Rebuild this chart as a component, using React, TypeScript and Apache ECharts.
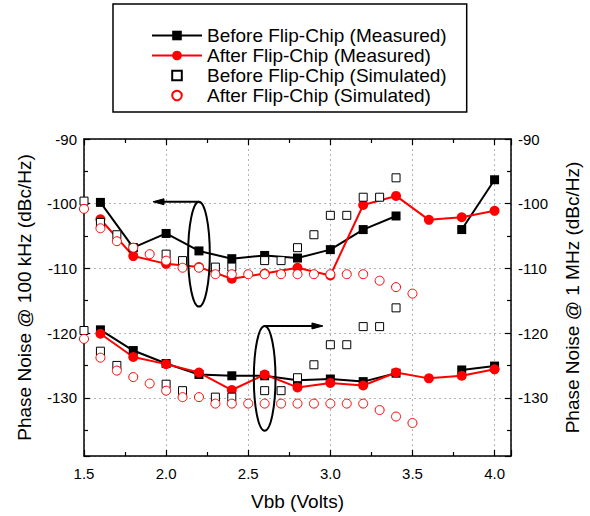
import React, { useEffect, useRef } from 'react';
import * as echarts from 'echarts';

const seriesNames = [
  'Before Flip-Chip (Measured)',
  'After Flip-Chip (Measured)',
  'Before Flip-Chip (Simulated)',
  'After Flip-Chip (Simulated)',
];

// Measured bias points (Volts)
const xMeasured = [1.6, 1.8, 2.0, 2.2, 2.4, 2.6, 2.8, 3.0, 3.2, 3.4, 3.6, 3.8, 4.0];
// Upper group (phase noise @ 100 kHz, left axis)
const beforeMeasured100k = [-99.8, -106.8, -104.6, -107.3, -108.5, -108.0, -108.4, -107.1, -104.0, -101.9, null, -104.0, -96.3];
const afterMeasured100k = [-102.4, -108.1, -109.3, -109.8, -111.6, -110.8, -109.9, -111.1, -100.2, -98.8, -102.5, -102.1, -101.1];
// Lower group (phase noise @ 1 MHz, right axis)
const beforeMeasured1M = [-119.5, -122.7, -124.7, -126.4, -126.6, -126.6, -127.3, -127.1, -127.5, -126.2, null, -125.7, -125.1];
const afterMeasured1M = [-120.1, -123.7, -124.8, -126.1, -128.8, -126.4, -128.4, -127.7, -128.1, -126.1, -127.0, -126.6, -125.6];

// Simulated bias points (Volts)
const xSimulated = [1.5, 1.6, 1.7, 1.8, 1.9, 2.0, 2.1, 2.2, 2.3, 2.4, 2.5, 2.6, 2.7, 2.8, 2.9, 3.0, 3.1, 3.2, 3.3, 3.4, 3.5];
const beforeSimulated100k = [-99.6, -102.9, -104.8, -106.8, null, -107.8, -108.8, null, -109.8, -109.8, null, -108.8, -108.8, -106.8, -104.8, -101.8, -101.8, -99.0, -99.0, -96.0, null];
const afterSimulated100k = [-100.8, -103.8, -105.8, -106.8, -107.8, -108.8, -109.9, -109.9, -110.9, -110.9, -110.9, -110.9, -110.9, -110.9, -110.9, -110.9, -110.9, -110.9, -111.9, -112.9, -113.9];
const beforeSimulated1M = [-119.6, -122.8, -125.0, null, null, -127.9, -128.9, null, -129.9, -129.9, null, -128.9, -128.9, -126.9, -124.9, -121.8, -121.8, -119.0, -119.0, -116.1, null];
const afterSimulated1M = [-120.9, -123.8, -125.8, -126.8, -127.8, -128.9, -129.9, -129.9, -130.9, -130.9, -130.9, -130.9, -130.9, -130.9, -130.9, -130.9, -130.9, -130.9, -131.9, -132.9, -133.9];

// Axis ranges
const xRange = [1.5, 4.1];
const yRange = [-139, -90];

// Annotation ellipses: [centre V, centre dB, half width V, half height dB, arrow end V]
const ellipse100k = [2.2, -107.8, 0.066, 8.1, 1.92];
const ellipse1M = [2.6, -127.0, 0.066, 8.1, 2.955];

const FONT = '"Liberation Sans", Arial, Helvetica, sans-serif';

const linePairs = (xs: number[], ys: (number | null)[]) =>
  xs.map((x, i) => [x, ys[i] === null ? '-' : ys[i]]);
const scatterPairs = (xs: number[], ys: (number | null)[]) =>
  xs.map((x, i) => [x, ys[i]]).filter((p) => p[1] !== null);

export default function App() {
  const ref = useRef<HTMLDivElement>(null);

  useEffect(() => {
    document.body.style.margin = '0';
    const chart = echarts.init(ref.current!, null, { renderer: 'svg' });

    const axisLine = { show: true, lineStyle: { color: '#000', width: 1.5 } };
    const axisTick = { show: true, inside: true, length: 6, lineStyle: { color: '#000', width: 1.2 } };
    const minorTick = { show: true, splitNumber: 2, length: 4, lineStyle: { color: '#000', width: 1.2 } };
    const grid = { lineStyle: { type: [2, 3], color: '#b4b4b4', width: 1 } };
    const yLabel = (v: number) => (Math.abs(v % 10) < 1e-6 ? String(v) : '');
    const xLabel = (v: number) =>
      Math.abs(v * 2 - Math.round(v * 2)) < 1e-6 && v <= 4.0001 ? v.toFixed(1) : '';

    const measuredLine = (name: string, color: string, symbol: string, size: number, ys: (number | null)[]) => ({
      name,
      type: 'line',
      data: linePairs(xMeasured, ys),
      symbol,
      symbolSize: size,
      showAllSymbol: true,
      connectNulls: false,
      itemStyle: { color },
      lineStyle: { color, width: 2 },
    });
    // markers only: a line series with an invisible line, so its legend icon is a small marker
    const simulated = (name: string, color: string, symbol: string, size: number, ys: (number | null)[]) => ({
      name,
      type: 'line',
      data: scatterPairs(xSimulated, ys),
      symbol,
      symbolSize: size,
      showAllSymbol: true,
      itemStyle: { color: '#fff', borderColor: color, borderWidth: 1 },
      lineStyle: { width: 0, opacity: 0 },
    });

    chart.setOption({
      animation: false,
      backgroundColor: '#fff',
      textStyle: { fontFamily: FONT },
      grid: { left: 84, right: 74, top: 139, bottom: 56 },
      legend: {
        orient: 'vertical',
        left: 113,
        top: 4,
        padding: [22, 20, 7, 38],
        itemGap: 1,
        itemWidth: 50,
        itemHeight: 12,
        borderColor: '#000',
        borderWidth: 1.5,
        textStyle: { fontSize: 19, color: '#000', fontFamily: FONT, lineHeight: 19 },
        data: seriesNames,
      },
      xAxis: [
        {
          type: 'value',
          min: xRange[0],
          max: xRange[1],
          splitNumber: 5,
          position: 'bottom',
          axisLine,
          axisTick,
          minorTick,
          splitLine: { show: true, ...grid },
          axisLabel: { formatter: xLabel, fontSize: 15, color: '#000', margin: 10, fontFamily: FONT },
          name: 'Vbb (Volts)',
          nameLocation: 'middle',
          nameGap: 36,
          nameTextStyle: { fontSize: 19, color: '#000', fontFamily: FONT },
        },
        {
          type: 'value',
          min: xRange[0],
          max: xRange[1],
          splitNumber: 5,
          position: 'top',
          axisLine,
          axisTick,
          minorTick,
          splitLine: { show: false },
          axisLabel: { show: false },
        },
      ],
      yAxis: [
        {
          type: 'value',
          min: yRange[0],
          max: yRange[1],
          splitNumber: 5,
          position: 'left',
          axisLine,
          axisTick,
          minorTick,
          splitLine: { show: true, ...grid },
          axisLabel: { formatter: yLabel, fontSize: 15, color: '#000', margin: 7, fontFamily: FONT },
          name: 'Phase Noise @ 100 kHz (dBc/Hz)',
          nameLocation: 'middle',
          nameGap: 50,
          nameTextStyle: { fontSize: 19, color: '#000', fontFamily: FONT },
        },
        {
          type: 'value',
          min: yRange[0],
          max: yRange[1],
          splitNumber: 5,
          position: 'right',
          axisLine,
          axisTick,
          minorTick,
          splitLine: { show: false },
          axisLabel: { formatter: yLabel, fontSize: 15, color: '#000', margin: 7, fontFamily: FONT },
          name: 'Phase Noise @ 1 MHz (dBc/Hz)',
          nameLocation: 'middle',
          nameGap: 52,
          nameTextStyle: { fontSize: 19, color: '#000', fontFamily: FONT },
        },
      ],
      series: [
        measuredLine(seriesNames[0], '#000', 'rect', 9, beforeMeasured100k),
        measuredLine(seriesNames[0], '#000', 'rect', 9, beforeMeasured1M),
        measuredLine(seriesNames[1], '#ff0000', 'circle', 10, afterMeasured100k),
        measuredLine(seriesNames[1], '#ff0000', 'circle', 10, afterMeasured1M),
        simulated(seriesNames[2], '#000', 'rect', 8, beforeSimulated100k),
        simulated(seriesNames[2], '#000', 'rect', 8, beforeSimulated1M),
        simulated(seriesNames[3], '#ff0000', 'circle', 9, afterSimulated100k),
        simulated(seriesNames[3], '#ff0000', 'circle', 9, afterSimulated1M),
      ],
    });

    const px = (x: number, y: number) =>
      chart.convertToPixel({ xAxisIndex: 0, yAxisIndex: 0 }, [x, y]) as number[];

    const annot = (e: number[], dir: number) => {
      const [cxV, cyDb, hwV, hhDb, arrowEndV] = e;
      const c = px(cxV, cyDb);
      const r = px(cxV + hwV, cyDb + hhDb);
      const rx = Math.abs(r[0] - c[0]);
      const ry = Math.abs(c[1] - r[1]);
      const topY = c[1] - ry;
      const endX = px(arrowEndV, cyDb)[0];
      const headLen = 11;
      const headHalf = 3;
      const baseX = endX - dir * headLen;
      return [
        {
          type: 'ellipse',
          shape: { cx: c[0], cy: c[1], rx, ry },
          style: { fill: 'none', stroke: '#000', lineWidth: 2 },
          z: 100,
        },
        {
          type: 'line',
          shape: { x1: c[0], y1: topY, x2: baseX, y2: topY },
          style: { stroke: '#000', lineWidth: 2 },
          z: 100,
        },
        {
          type: 'polygon',
          shape: { points: [[endX, topY], [baseX, topY - headHalf], [baseX, topY + headHalf]] },
          style: { fill: '#000', stroke: '#000', lineWidth: 1 },
          z: 100,
        },
      ];
    };

    chart.setOption({
      graphic: [...annot(ellipse100k, -1), ...annot(ellipse1M, 1)],
    });

    return () => chart.dispose();
  }, []);

  return <div ref={ref} style={{ width: 590, height: 516 }} />;
}
